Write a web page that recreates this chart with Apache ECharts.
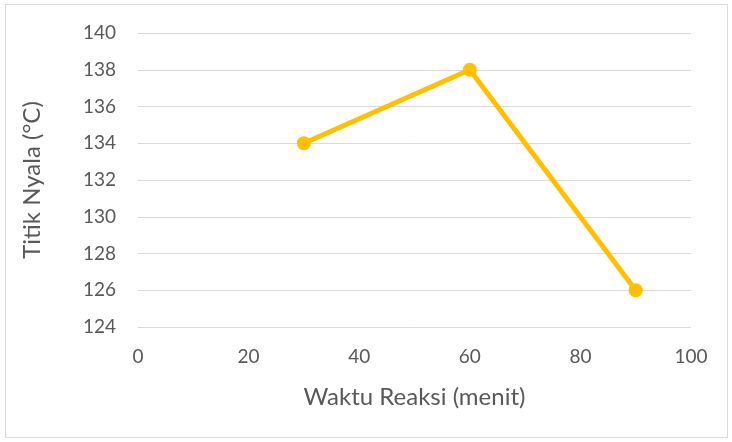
<!DOCTYPE html>
<html>
<head>
<meta charset="utf-8">
<script src="https://cdn.jsdelivr.net/npm/echarts@6/dist/echarts.min.js"></script>
<style>
    html, body { margin: 0; padding: 0; background: #fff; }
    #frame {
        position: absolute; left: 5px; top: 4px;
        width: 721px; height: 432px;
        border: 1px solid #d9d9d9;
    }
    #myChart { position: absolute; left: 0; top: 0; width: 732px; height: 442px; }
</style>
</head>
<body>
<div id="frame"></div>
<div id="myChart"></div>
<script>
// waktu reaksi (menit) vs titik nyala (°C)
const waktu = [30, 60, 90]
const titikNyala = [134, 138, 126]
const labelFont = 'Lato, "Open Sans", sans-serif'

const myChart = echarts.init(document.getElementById('myChart'))
myChart.setOption({
    animation: false,
    grid: { left: 138, right: 41, top: 33, bottom: 115 },
    xAxis: {
        type: 'value',
        min: 0,
        max: 100,
        interval: 20,
        name: 'Waktu Reaksi (menit)',
        nameLocation: 'middle',
        nameGap: 58,
        nameTextStyle: { fontFamily: labelFont, fontSize: 24, color: '#595959' },
        axisLine: { show: false },
        axisTick: { show: false },
        splitLine: { show: false },
        axisLabel: { fontFamily: labelFont, fontSize: 19, color: '#595959', margin: 20 }
    },
    yAxis: {
        type: 'value',
        min: 124,
        max: 140,
        interval: 2,
        name: 'Titik Nyala (°C)',
        nameLocation: 'middle',
        nameGap: 94,
        nameTextStyle: { fontFamily: labelFont, fontSize: 24, color: '#595959' },
        axisLine: { show: false },
        axisTick: { show: false },
        splitLine: { lineStyle: { color: '#d9d9d9', width: 1 } },
        axisLabel: { fontFamily: labelFont, fontSize: 19, color: '#595959', margin: 22 }
    },
    series: [{
        type: 'line',
        data: waktu.map((x, i) => [x, titikNyala[i]]),
        symbol: 'circle',
        symbolSize: 14,
        lineStyle: { color: '#ffc000', width: 5 },
        itemStyle: { color: '#ffc000' }
    }]
})
</script>
</body>
</html>
